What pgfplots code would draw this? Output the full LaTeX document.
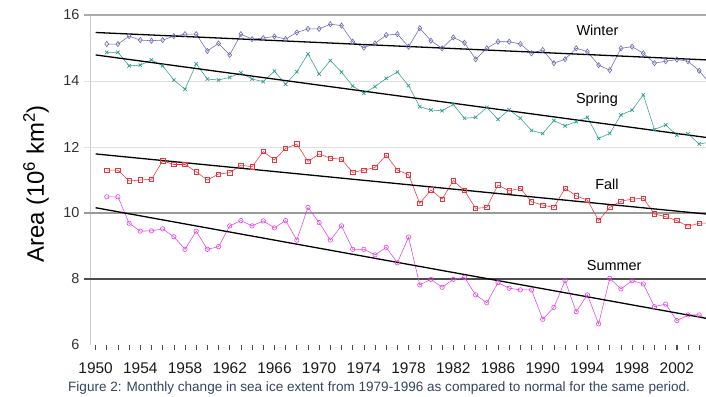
\documentclass[border=0pt]{standalone}
\usepackage{fontspec}
\setmainfont{Liberation Sans}
\usepackage{pgfplots}
\pgfplotsset{compat=1.18}

\definecolor{winter}{HTML}{6868B4}
\definecolor{spring}{HTML}{2E9E94}
\definecolor{fall}{HTML}{E8363C}
\definecolor{summer}{HTML}{E042E0}
\definecolor{captiontext}{HTML}{34445E}

% seasonal sea ice area, 10^6 km^2
\pgfplotstableread{
year winter spring fall summer
1951 15.12 14.87 11.30 10.49
1952 15.12 14.87 11.30 10.49
1953 15.36 14.46 10.97 9.69
1954 15.24 14.48 11.00 9.45
1955 15.22 14.64 11.02 9.46
1956 15.24 14.46 11.58 9.52
1957 15.36 14.03 11.47 9.28
1958 15.42 13.75 11.47 8.90
1959 15.42 14.52 11.25 9.45
1960 14.91 14.06 11.00 8.90
1961 15.14 14.03 11.18 8.98
1962 14.79 14.11 11.22 9.61
1963 15.42 14.25 11.45 9.77
1964 15.27 14.06 11.40 9.61
1965 15.30 13.98 11.86 9.76
1966 15.35 14.30 11.61 9.55
1967 15.27 13.90 11.96 9.77
1968 15.47 14.28 12.09 9.18
1969 15.58 14.82 11.56 10.17
1970 15.58 14.21 11.79 9.71
1971 15.72 14.62 11.66 9.18
1972 15.68 14.27 11.63 9.61
1973 15.19 13.85 11.23 8.90
1974 15.01 13.63 11.30 8.90
1975 15.14 13.83 11.38 8.73
1976 15.39 14.08 11.75 8.96
1977 15.42 14.27 11.30 8.49
1978 15.04 13.86 11.16 9.27
1979 15.60 13.22 10.29 7.82
1980 15.22 13.12 10.70 7.99
1981 14.99 13.10 10.42 7.75
1982 15.32 13.29 10.98 7.99
1983 15.16 12.87 10.68 8.05
1984 14.66 12.90 10.14 7.52
1985 14.99 13.20 10.17 7.28
1986 15.19 12.84 10.85 7.89
1987 15.19 13.13 10.67 7.72
1988 15.12 12.87 10.75 7.67
1989 14.84 12.50 10.34 7.67
1990 14.94 12.41 10.24 6.78
1991 14.54 12.80 10.17 7.14
1992 14.66 12.64 10.75 7.95
1993 14.99 12.77 10.52 7.01
1994 14.89 12.90 10.39 7.52
1995 14.48 12.26 9.77 6.64
1996 14.33 12.41 10.17 8.02
1997 14.99 12.97 10.36 7.70
1998 15.04 13.12 10.42 7.95
1999 14.84 13.58 10.45 7.85
2000 14.54 12.53 9.97 7.16
2001 14.60 12.67 9.89 7.24
2002 14.65 12.36 9.77 6.74
2003 14.60 12.40 9.60 6.91
2004 14.31 12.09 9.69 6.91
2005 13.90 12.15 9.70 6.70
}\icedata

\begin{document}
\begin{tikzpicture}[x=1bp,y=1bp]
\useasboundingbox (0,0) rectangle (706,396);
\begin{axis}[
  at={(90bp,51bp)}, anchor=south west,
  scale only axis, width=616bp, height=330bp,
  xmin=1949.5, xmax=2004.61, ymin=6, ymax=16,
  clip=false,
  axis x line*=bottom, axis y line*=left,
  x axis line style={draw=none},
  y axis line style={draw=black!20, line width=0.8bp},
  xtick={1950,1954,...,2002},
  minor xtick={1951,...,2004},
  xtick align=outside,
  major tick length=5bp, minor tick length=5bp,
  xtick style={draw=black!70, line width=0.6bp},
  minor x tick style={draw=black!70, line width=0.6bp},
  ytick={6,8,...,16},
  ytick style={draw=none},
  xticklabel style={font=\fontsize{15.5}{17}\selectfont, text=black!90, yshift=-9bp},
  yticklabel style={font=\fontsize{14.5}{16}\selectfont, text=black!80, xshift=-7bp},
  /pgf/number format/.cd, assume math mode=true, set thousands separator={},
]
% horizontal reference lines
\addplot[black!33, line width=1.6bp] coordinates {(1949.0,16) (2004.61,16)};
\addplot[black!12, line width=0.8bp] coordinates {(1949.0,14) (2004.61,14)};
\addplot[black!12, line width=0.8bp] coordinates {(1949.0,12) (2004.61,12)};
\addplot[black!40, line width=1.6bp] coordinates {(1949.0,10) (2004.61,10)};
\addplot[black!70, line width=1.2bp] coordinates {(1949.0,8) (2004.61,8)};

% seasonal series
\addplot[winter, line width=0.55bp, mark=diamond, mark size=2.6bp, mark options={solid, line width=0.6bp}]
  table[x=year, y=winter] {\icedata};
\addplot[spring, line width=0.55bp, mark=x, mark size=2.4bp, mark options={solid, line width=0.7bp}]
  table[x=year, y=spring] {\icedata};
\addplot[fall, line width=0.55bp, mark=square, mark size=2.2bp, mark options={solid, line width=0.7bp}]
  table[x=year, y=fall] {\icedata};
\addplot[summer, line width=0.55bp, mark=o, mark size=2.2bp, mark options={solid, line width=0.6bp}]
  table[x=year, y=summer] {\icedata};

% linear trends
\addplot[black, line width=1.3bp] coordinates {(1950,15.47) (2004.61,14.64)};
\addplot[black, line width=1.3bp] coordinates {(1950,14.79) (2004.61,12.29)};
\addplot[black, line width=1.3bp] coordinates {(1950,11.79) (2004.61,9.97)};
\addplot[black, line width=1.3bp] coordinates {(1950,10.16) (2004.61,6.81)};

% season names
\node[font=\fontsize{14.5}{16}\selectfont] at (axis cs:1994.9,15.55) {Winter};
\node[font=\fontsize{14.5}{16}\selectfont] at (axis cs:1994.85,13.42) {Spring};
\node[font=\fontsize{14.5}{16}\selectfont] at (axis cs:1995.75,10.88) {Fall};
\node[font=\fontsize{14.5}{16}\selectfont] at (axis cs:1996.4,8.42) {Summer};
\end{axis}

\node[rotate=90, font=\fontsize{24}{26}\selectfont] at (36,212)
  {Area (10\textsuperscript{6} km\textsuperscript{2})};
\node[anchor=base west, inner sep=0, font=\fontsize{13.6}{15}\selectfont, text=captiontext]
  at (68,5) {Figure 2: Monthly change in sea ice extent from 1979-1996 as compared to normal for the same period.};
\end{tikzpicture}
\end{document}
